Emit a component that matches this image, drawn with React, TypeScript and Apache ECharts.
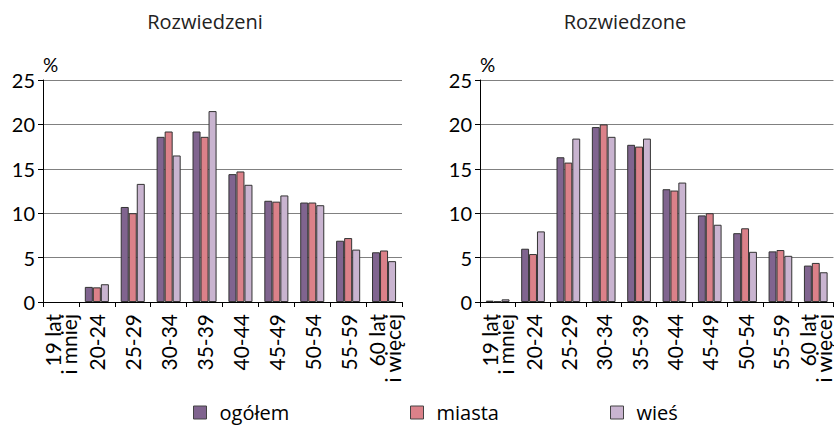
import React, { useEffect, useRef } from "react";
import * as echarts from "echarts";

const categories = ["19 lat\ni mniej", "20-24", "25-29", "30-34", "35-39", "40-44", "45-49", "50-54", "55-59", "60 lat\ni więcej"];
const seriesNames = ["ogółem", "miasta", "wieś"];
const colors = ["#80648F", "#DB8189", "#C9B4D0"];

// Rozwiedzeni
const menOgolem = [null, 1.7, 10.7, 18.6, 19.2, 14.4, 11.4, 11.2, 6.9, 5.6];
const menMiasta = [null, 1.65, 10.0, 19.2, 18.6, 14.7, 11.3, 11.2, 7.2, 5.8];
const menWies = [null, 2.0, 13.3, 16.5, 21.5, 13.2, 12.0, 10.9, 5.9, 4.6];

// Rozwiedzione
const womenOgolem = [0.15, 6.0, 16.3, 19.7, 17.7, 12.7, 9.75, 7.75, 5.7, 4.1];
const womenMiasta = [0.07, 5.4, 15.7, 20.0, 17.5, 12.55, 10.0, 8.3, 5.85, 4.4];
const womenWies = [0.3, 7.95, 18.4, 18.6, 18.4, 13.45, 8.7, 5.65, 5.2, 3.35];

const titles = ["Rozwiedzeni", "Rozwiedzone"];
const yTicks = { min: 0, max: 25, interval: 5 };

const FONT = "Lato";
const TITLE_FONT = "Open Sans";

export default function App() {
  const ref = useRef<HTMLDivElement>(null);
  useEffect(() => {
    if (!ref.current) return;
    const chart = echarts.init(ref.current, undefined, { renderer: "svg" });
    const data = [
      [menOgolem, menMiasta, menWies],
      [womenOgolem, womenMiasta, womenWies],
    ];
    const grids = [
      { left: 43, top: 80, width: 359, height: 222 },
      { left: 480, top: 80, width: 359, height: 222 },
    ];
    const xAxes = grids.map((_, i) => ({
      type: "category",
      gridIndex: i,
      data: categories,
      axisLine: { show: true, lineStyle: { color: "#000", width: 1 } },
      axisTick: { show: true, interval: 0, length: 5, lineStyle: { color: "#000" } },
      axisLabel: {
        interval: 0,
        rotate: 90,
        fontSize: 21,
        lineHeight: 16,
        margin: 12,
        color: "#000",
        fontFamily: FONT,
      },
    }));
    const yAxes = grids.map((_, i) => ({
      type: "value",
      gridIndex: i,
      min: yTicks.min,
      max: yTicks.max,
      interval: yTicks.interval,
      name: "%",
      nameLocation: "end",
      nameGap: 6,
      nameTextStyle: { align: "left", fontSize: 19, color: "#000", fontFamily: FONT, verticalAlign: "bottom" },
      axisLine: { show: true, lineStyle: { color: "#000", width: 1 } },
      axisTick: { show: true, length: 5, lineStyle: { color: "#000" } },
      splitLine: { show: true, lineStyle: { color: "#808080", width: 1 } },
      axisLabel: { fontSize: 20, color: "#000", margin: 8, fontFamily: FONT },
    }));
    const series: any[] = [];
    data.forEach((group, gi) => {
      group.forEach((vals, si) => {
        series.push({
          type: "bar",
          name: seriesNames[si],
          xAxisIndex: gi,
          yAxisIndex: gi,
          data: vals,
          barGap: "0%",
          barCategoryGap: "33%",
          itemStyle: { color: colors[si], borderColor: "#333", borderWidth: 1 },
        });
      });
    });
    const legendLefts = [193, 410, 610];
    const legends = seriesNames.map((n, i) => ({
      data: [n],
      left: legendLefts[i],
      top: 402,
      padding: 0,
      itemWidth: 13,
      itemHeight: 13,
      itemGap: 0,
      icon: "rect",
      itemStyle: { borderColor: "#444", borderWidth: 1 },
      textStyle: { fontSize: 20, lineHeight: 21, color: "#000", fontFamily: TITLE_FONT, padding: [0, 0, 0, 8] },
      selectedMode: false,
    }));
    chart.setOption({
      animation: false,
      backgroundColor: "#fff",
      title: titles.map((t, i) => ({
        text: t,
        left: i === 0 ? 200 : 620,
        top: 6,
        textAlign: "center",
        textStyle: { fontSize: 20, fontWeight: "normal", color: "#222", fontFamily: TITLE_FONT },
      })),
      legend: legends,
      grid: grids,
      xAxis: xAxes,
      yAxis: yAxes,
      series,
    });
    return () => chart.dispose();
  }, []);
  return <div ref={ref} style={{ position: "fixed", left: 0, top: 0, width: 834, height: 426 }} />;
}
